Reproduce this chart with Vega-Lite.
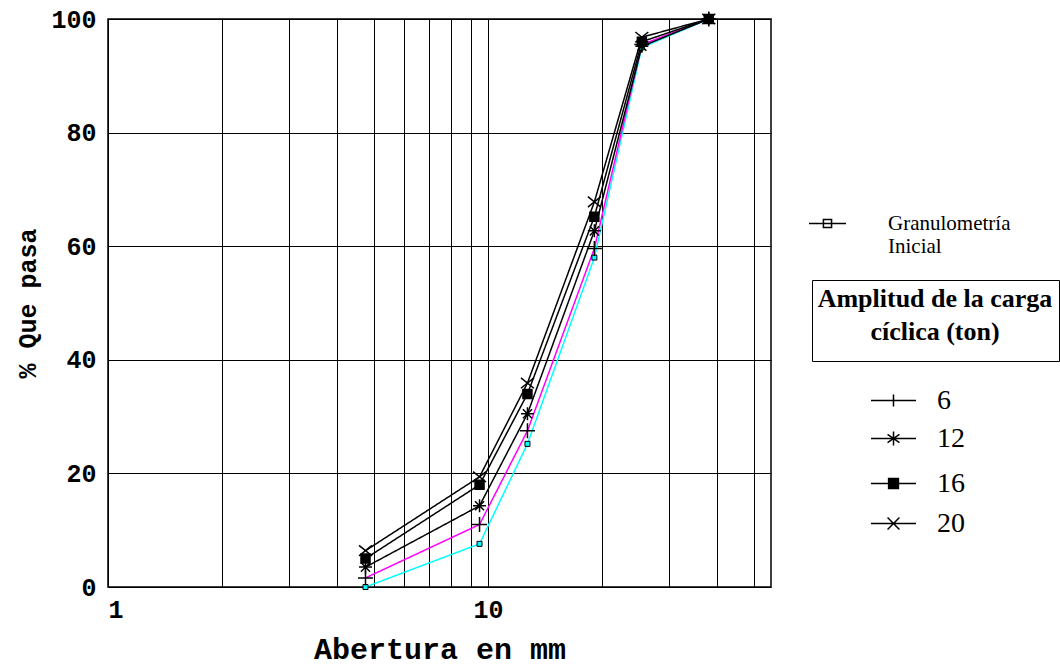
{
  "$schema": "https://vega.github.io/schema/vega-lite/v6.json",
  "width": 663,
  "height": 568,
  "autosize": "none",
  "padding": {"left": 108, "top": 19, "right": 289, "bottom": 79},
  "background": "white",
  "config": {
    "view": {"stroke": "black", "strokeWidth": 1.5},
    "axis": {
      "grid": true, "gridColor": "black", "gridOpacity": 1, "gridWidth": 1,
      "ticks": false, "domain": false,
      "labelFont": "Liberation Mono", "labelFontSize": 25, "labelFontWeight": "bold", "labelColor": "black",
      "titleFont": "Liberation Mono", "titleFontWeight": "bold", "titleColor": "black"
    },
    "legend": {
      "title": null, "padding": 0, "labelColor": "black", "labelFont": "Liberation Serif",
      "symbolOpacity": 1, "symbolStrokeWidth": 1.5, "symbolStrokeColor": "black"
    }
  },
  "data": {"values": [
    {"abertura": 4.76, "pasa": 0, "serie": "Inicial"},
    {"abertura": 9.5, "pasa": 7.6, "serie": "Inicial"},
    {"abertura": 12.7, "pasa": 25.2, "serie": "Inicial"},
    {"abertura": 19.05, "pasa": 58, "serie": "Inicial"},
    {"abertura": 25.4, "pasa": 95, "serie": "Inicial"},
    {"abertura": 38.1, "pasa": 100, "serie": "Inicial"},
    {"abertura": 4.76, "pasa": 1.6, "serie": "6"},
    {"abertura": 9.5, "pasa": 11, "serie": "6"},
    {"abertura": 12.7, "pasa": 27.5, "serie": "6"},
    {"abertura": 19.05, "pasa": 59.6, "serie": "6"},
    {"abertura": 25.4, "pasa": 95.5, "serie": "6"},
    {"abertura": 38.1, "pasa": 100, "serie": "6"},
    {"abertura": 4.76, "pasa": 3.5, "serie": "12"},
    {"abertura": 9.5, "pasa": 14.3, "serie": "12"},
    {"abertura": 12.7, "pasa": 30.5, "serie": "12"},
    {"abertura": 19.05, "pasa": 62.7, "serie": "12"},
    {"abertura": 25.4, "pasa": 95.2, "serie": "12"},
    {"abertura": 38.1, "pasa": 100, "serie": "12"},
    {"abertura": 4.76, "pasa": 5, "serie": "16"},
    {"abertura": 9.5, "pasa": 18, "serie": "16"},
    {"abertura": 12.7, "pasa": 34, "serie": "16"},
    {"abertura": 19.05, "pasa": 65.2, "serie": "16"},
    {"abertura": 25.4, "pasa": 96, "serie": "16"},
    {"abertura": 38.1, "pasa": 100, "serie": "16"},
    {"abertura": 4.76, "pasa": 6.4, "serie": "20"},
    {"abertura": 9.5, "pasa": 19.4, "serie": "20"},
    {"abertura": 12.7, "pasa": 35.9, "serie": "20"},
    {"abertura": 19.05, "pasa": 67.8, "serie": "20"},
    {"abertura": 25.4, "pasa": 96.8, "serie": "20"},
    {"abertura": 38.1, "pasa": 100, "serie": "20"}
  ]},
  "encoding": {
    "x": {
      "field": "abertura", "type": "quantitative",
      "scale": {"type": "log", "domain": [1, 55.55], "nice": false},
      "axis": {
        "values": [1, 2, 3, 4, 5, 6, 7, 8, 9, 10, 20, 30, 40, 50],
        "labelExpr": "datum.value == 1 || datum.value == 10 ? format(datum.value, 'd') : ''",
        "labelPadding": 10, "titleFontSize": 30, "titlePadding": 12
      },
      "title": "Abertura en mm"
    },
    "y": {
      "field": "pasa", "type": "quantitative",
      "scale": {"domain": [0, 100], "nice": false},
      "axis": {"values": [0, 20, 40, 60, 80, 100], "labelPadding": 12, "titleFontSize": 25, "titlePadding": 10},
      "title": "% Que pasa"
    }
  },
  "layer": [
    {
      "mark": {"type": "line", "strokeWidth": 1.5},
      "encoding": {
        "color": {
          "field": "serie", "type": "nominal",
          "scale": {"domain": ["Inicial", "6", "12", "16", "20"], "range": ["#00FFFF", "#FF00FF", "black", "black", "black"]},
          "legend": null
        },
        "strokeDash": {
          "datum": "caja", "type": "nominal",
          "scale": {"range": [[1, 0]]},
          "legend": {
            "orient": "none", "legendX": 704, "legendY": 261,
            "title": ["Amplitud de la carga", "cíclica (ton)"],
            "titleFont": "Liberation Serif", "titleFontSize": 26, "titleFontWeight": "bold", "titleColor": "black",
            "titleAnchor": "middle", "titleAlign": "center", "titleLineHeight": 33, "titlePadding": 0, "titleLimit": 400,
            "strokeColor": "black", "padding": 6,
            "labelExpr": "''", "symbolOpacity": 0, "symbolSize": 100, "labelFontSize": 8
          }
        }
      }
    },
    {
      "transform": [{"filter": "datum.serie == 'Inicial'"}],
      "mark": {"type": "point", "shape": "square", "filled": true, "fill": "#00FFFF", "stroke": "black", "strokeWidth": 1, "size": 25, "opacity": 1}
    },
    {
      "transform": [{"filter": "datum.serie != 'Inicial'"}],
      "mark": {"type": "point", "strokeWidth": 1.5, "opacity": 1},
      "encoding": {
        "shape": {
          "field": "serie", "type": "nominal",
          "scale": {
            "domain": ["6", "12", "16", "20"],
            "range": ["M-1,0H1M0,-1V1", "M0,-1V1M-1,0H1M-0.7,-0.7L0.7,0.7M-0.7,0.7L0.7,-0.7", "square", "M-1,-0.8L1,0.8M-1,0.8L1,-0.8"]
          },
          "legend": null
        },
        "size": {"condition": [{"test": "datum.serie == '6'", "value": 225}, {"test": "datum.serie == '16'", "value": 81}], "value": 169},
        "fill": {"condition": {"test": "datum.serie == '16'", "value": "black"}, "value": "transparent"},
        "stroke": {"value": "black"}
      }
    },
    {
      "transform": [{"filter": "datum.serie == 'Inicial'"}],
      "mark": {"type": "point", "fill": "transparent", "stroke": "black", "strokeWidth": 1.5, "opacity": 0},
      "encoding": {
        "shape": {
          "datum": "Granulometría Inicial", "type": "nominal",
          "scale": {"range": ["M-1,0H1M-0.22,-0.22H0.22V0.22H-0.22Z"]},
          "legend": {
            "orient": "none", "legendX": 700, "legendY": 185,
            "symbolSize": 1369, "symbolFillColor": "transparent", "labelOffset": 41,
            "labelExpr": "['Granulometría', 'Inicial']", "labelFontSize": 21
          }
        }
      }
    },
    {
      "transform": [{"filter": "datum.serie == '6'"}],
      "mark": {"type": "point", "fill": "transparent", "stroke": "black", "strokeWidth": 1.5, "opacity": 0},
      "encoding": {
        "shape": {
          "datum": "6", "type": "nominal",
          "scale": {"range": ["M-1.286,0H1.286M0,-0.34V0.34"]},
          "legend": {
            "orient": "none", "legendX": 767, "legendY": 363,
            "symbolSize": 1225, "symbolFillColor": "transparent", "labelOffset": 25, "labelFontSize": 28
          }
        }
      }
    },
    {
      "transform": [{"filter": "datum.serie == '12'"}],
      "mark": {"type": "point", "fill": "transparent", "stroke": "black", "strokeWidth": 1.5, "opacity": 0},
      "encoding": {
        "shape": {
          "datum": "12", "type": "nominal",
          "scale": {"range": ["M-1.286,0H1.286M0,-0.4V0.4M-0.34,-0.23L0.34,0.23M-0.34,0.23L0.34,-0.23"]},
          "legend": {
            "orient": "none", "legendX": 767, "legendY": 401,
            "symbolSize": 1225, "symbolFillColor": "transparent", "labelOffset": 25, "labelFontSize": 28
          }
        }
      }
    },
    {
      "transform": [{"filter": "datum.serie == '16'"}],
      "mark": {"type": "point", "fill": "transparent", "stroke": "black", "strokeWidth": 1.5, "opacity": 0},
      "encoding": {
        "shape": {
          "datum": "16", "type": "nominal",
          "scale": {"range": ["M-1.286,0H1.286M-0.28,-0.28H0.28V0.28H-0.28ZM-0.28,-0.21H0.28M-0.28,-0.14H0.28M-0.28,-0.07H0.28M-0.28,0.07H0.28M-0.28,0.14H0.28M-0.28,0.21H0.28"]},
          "legend": {
            "orient": "none", "legendX": 767, "legendY": 446,
            "symbolSize": 1225, "symbolFillColor": "transparent", "labelOffset": 25, "labelFontSize": 28
          }
        }
      }
    },
    {
      "transform": [{"filter": "datum.serie == '20'"}],
      "mark": {"type": "point", "fill": "transparent", "stroke": "black", "strokeWidth": 1.5, "opacity": 0},
      "encoding": {
        "shape": {
          "datum": "20", "type": "nominal",
          "scale": {"range": ["M-1.286,0H1.286M-0.34,-0.34L0.34,0.34M-0.34,0.34L0.34,-0.34"]},
          "legend": {
            "orient": "none", "legendX": 767, "legendY": 486,
            "symbolSize": 1225, "symbolFillColor": "transparent", "labelOffset": 25, "labelFontSize": 28
          }
        }
      }
    }
  ],
  "resolve": {"scale": {"shape": "independent"}, "legend": {"shape": "independent"}}
}
